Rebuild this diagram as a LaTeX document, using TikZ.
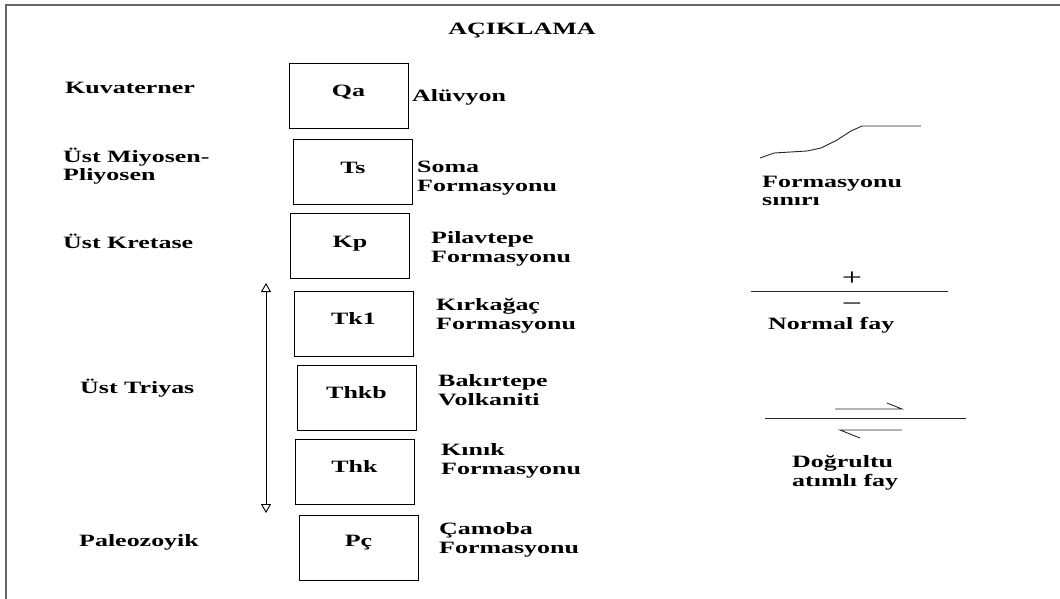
\documentclass[tikz,border=0pt]{standalone}
\usepackage{fontspec}
\setmainfont{Liberation Serif}[FakeStretch=1.5]
\usetikzlibrary{arrows.meta,positioning}
\newcommand{\legendFont}{\fontsize{17.3}{18.5}\selectfont\bfseries}
\newcommand{\signFont}{\fontsize{24}{24}\selectfont}
\tikzset{%
  unitBox/.style={%
    rectangle,
    draw=black,
    line width=0.9pt,
    minimum width=119pt,
    minimum height=65pt,
    inner sep=0pt,
    text height=11pt,
    text depth=9pt,
    align=center,
    font=\legendFont
  },
  legendText/.style={%
    anchor=west,
    inner sep=0pt,
    align=left,
    font=\legendFont
  },
  signText/.style={%
    anchor=base,
    inner sep=0pt,
    text depth=0pt,
    font=\signFont
  },
  symbolLine/.style={%
    line width=0.9pt,
    color=black!85
  },
  rangeArrow/.style={%
    {Triangle[open,length=9pt,width=10pt]}-{Triangle[open,length=9pt,width=10pt]},
    line width=0.9pt
  },
  frameLine/.style={%
    line width=1.6pt,
    color=black!60
  }
}

\begin{document}
\begin{tikzpicture}[x=1pt,y=-1pt]
  \useasboundingbox (0,0) rectangle (1060,599);
  \draw[frameLine] (6,599) -- (6,5) -- (1060,5);

  \node[legendText, anchor=center] (title) at (522,31) {AÇIKLAMA};

  % ages
  \node[legendText] (ageQ) at (65,88) {Kuvaterner};
  \node[legendText] (ageTs) at (63,166) {Üst Miyosen-\\Pliyosen};
  \node[legendText] (ageKp) at (63,241) {Üst Kretase};
  \node[legendText] (ageTr) at (80,388) {Üst Triyas};
  \node[legendText] (agePz) at (79,542) {Paleozoyik};

  % units
  \node[unitBox] (qa) at (348.5,95.5) {Qa};
  \node[unitBox] (ts) at (353,172) {Ts};
  \node[unitBox] (kp) at (350,246) {Kp};
  \node[unitBox] (tkOne) at (353.5,323.5) {Tk1};
  \node[unitBox] (thkb) at (356.5,397.5) {Thkb};
  \node[unitBox] (thk) at (354.5,471.5) {Thk};
  \node[unitBox, text depth=13pt] (pc) at (358.5,547.5) {Pç};

  \node[legendText] (qaName) at (412,97) {Alüvyon};
  \node[legendText] (tsName) at (417,178) {Soma\\Formasyonu};
  \node[legendText] (kpName) at (431,249) {Pilavtepe\\Formasyonu};
  \node[legendText] (tkOneName) at (436,316) {Kırkağaç\\Formasyonu};
  \node[legendText] (thkbName) at (438,390) {Bakırtepe\\Volkaniti};
  \node[legendText] (thkName) at (441,461) {Kınık\\Formasyonu};
  \node[legendText] (pcName) at (439,540) {Çamoba\\Formasyonu};

  % triassic range
  \coordinate (rangeTop) at (266,283);
  \coordinate (rangeBot) at (266,513);
  \draw[rangeArrow] (rangeTop) -- (rangeBot);

  % formation boundary
  \draw[symbolLine] (760,158) -- (774,153) -- (807,151) -- (821,148)
    -- (837,140) -- (851,131) -- (862,126) -- (921,126);
  \node[legendText] (boundName) at (762,191) {Formasyonu\\sınırı};

  % normal fault
  \draw[symbolLine] (751,291) -- (948,291);
  \node[signText] (plusSign) at (852,285) {+};
  \node[signText] (minusSign) at (852,311) {−};
  \node[legendText] (normalName) at (768,325) {Normal fay};

  % strike-slip fault
  \draw[symbolLine] (765,418) -- (966,418);
  \draw[symbolLine] (835,409) -- (902,409) -- (887,403);
  \draw[symbolLine] (902,430) -- (840,430) -- (860,438);
  \node[legendText] (strikeName) at (792,473) {Doğrultu\\atımlı fay};
\end{tikzpicture}
\end{document}
